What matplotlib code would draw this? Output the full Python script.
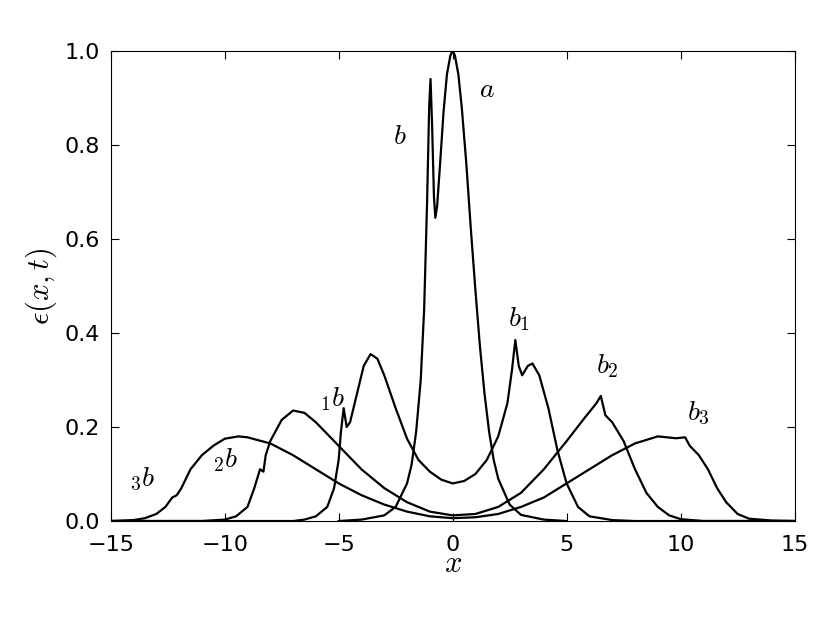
import matplotlib
matplotlib.use("Agg")
import matplotlib.pyplot as plt

plt.rcParams["mathtext.fontset"] = "cm"

# central narrow pulse (a, b)
xa = [-5, -4, -3, -2.5, -2, -1.8, -1.6, -1.4, -1.25, -1.12, -1.03, -0.97, -0.9, -0.82,
      -0.76, -0.68, -0.55, -0.4, -0.25, -0.1, 0, 0.1, 0.25, 0.4, 0.6, 0.8, 1.0, 1.2,
      1.4, 1.6, 1.8, 2, 2.5, 3, 4, 5]
ya = [0, 0.003, 0.012, 0.03, 0.08, 0.12, 0.19, 0.3, 0.45, 0.68, 0.88, 0.94, 0.84, 0.69,
      0.645, 0.67, 0.76, 0.87, 0.95, 0.99, 1.0, 0.99, 0.95, 0.88, 0.76, 0.62, 0.49, 0.37,
      0.27, 0.19, 0.13, 0.09, 0.035, 0.013, 0.003, 0]

# pair b1 / 1b
xb = [-15, -7, -6.5, -6, -5.5, -5.2, -5, -4.9, -4.78, -4.65, -4.5, -4.2, -3.9, -3.6,
      -3.3, -3, -2.5, -2, -1.5, -1, -0.5, 0, 0.5, 1, 1.5, 2, 2.4, 2.6, 2.75, 2.9, 3.05,
      3.3, 3.5, 3.8, 4.2, 4.6, 5, 5.5, 6, 7, 8, 15]
yb = [0, 0, 0.003, 0.01, 0.03, 0.07, 0.13, 0.19, 0.24, 0.2, 0.21, 0.27, 0.33, 0.355,
      0.345, 0.31, 0.24, 0.175, 0.13, 0.105, 0.088, 0.08, 0.085, 0.1, 0.13, 0.18, 0.25,
      0.32, 0.385, 0.33, 0.31, 0.33, 0.335, 0.31, 0.24, 0.15, 0.08, 0.03, 0.01, 0.002, 0, 0]

# pair b2 / 2b
xc = [-15, -11, -10, -9.5, -9, -8.7, -8.45, -8.3, -8.2, -8, -7.5, -7, -6.5, -6, -5, -4,
      -3, -2, -1, 0, 1, 2, 3, 4, 5, 5.8, 6.3, 6.5, 6.7, 7, 7.5, 8, 8.5, 9, 9.5, 10, 11, 15]
yc = [0, 0, 0.003, 0.01, 0.03, 0.07, 0.11, 0.105, 0.14, 0.17, 0.215, 0.235, 0.23, 0.21,
      0.16, 0.11, 0.07, 0.04, 0.02, 0.012, 0.015, 0.03, 0.06, 0.11, 0.17, 0.22, 0.25,
      0.266, 0.225, 0.21, 0.17, 0.11, 0.06, 0.03, 0.012, 0.004, 0, 0]

# pair b3 / 3b
xd = [-15, -14, -13.5, -13, -12.6, -12.3, -12.1, -11.9, -11.5, -11, -10.5, -10, -9.4,
      -9, -8, -7, -6, -5, -4, -3, -2, -1, 0, 1, 2, 3, 4, 5, 6, 7, 8, 9, 9.8, 10.2, 10.4,
      10.8, 11.2, 11.6, 12, 12.5, 13, 14, 15]
yd = [0, 0.002, 0.006, 0.015, 0.03, 0.05, 0.055, 0.07, 0.11, 0.14, 0.16, 0.175, 0.18,
      0.178, 0.165, 0.14, 0.11, 0.08, 0.055, 0.035, 0.02, 0.01, 0.006, 0.008, 0.015,
      0.03, 0.05, 0.08, 0.11, 0.14, 0.165, 0.18, 0.176, 0.178, 0.16, 0.14, 0.11, 0.07,
      0.04, 0.015, 0.005, 0.001, 0]

labels = [r"$a$", r"$b$", r"$b_1$", r"${}_1b$", r"$b_2$", r"${}_2b$", r"$b_3$", r"${}_3b$"]
label_x = [1.5, -2.3, 2.9, -5.3, 6.8, -10.0, 10.8, -13.6]
label_y = [0.89, 0.79, 0.4, 0.23, 0.3, 0.1, 0.2, 0.06]

fig = plt.figure(figsize=(8.2, 6.32), dpi=100)
ax = fig.add_axes([0.135, 0.1756, 0.834, 0.744])
for xs, ys in [(xa, ya), (xb, yb), (xc, yc), (xd, yd)]:
    ax.plot(xs, ys, color="black", lw=1.6, solid_joinstyle="round")
for t, lx, ly in zip(labels, label_x, label_y):
    ax.text(lx, ly, t, fontsize=20, ha="center", va="bottom")

ax.set_xlim(-15, 15)
ax.set_ylim(0, 1.0)
ax.set_xticks([-15, -10, -5, 0, 5, 10, 15])
ax.set_yticks([0, 0.2, 0.4, 0.6, 0.8, 1.0])
ax.set_yticklabels(["0.0", "0.2", "0.4", "0.6", "0.8", "1.0"])
ax.tick_params(direction="in", top=True, right=True, labelsize=16, length=6)
ax.tick_params(axis="x", pad=10)
ax.tick_params(axis="y", pad=8)
ax.set_xlabel(r"$x$", fontsize=22, labelpad=-4)
ax.set_ylabel(r"$\epsilon(x,t)$", fontsize=22)
fig.savefig("out.png", dpi=100)
